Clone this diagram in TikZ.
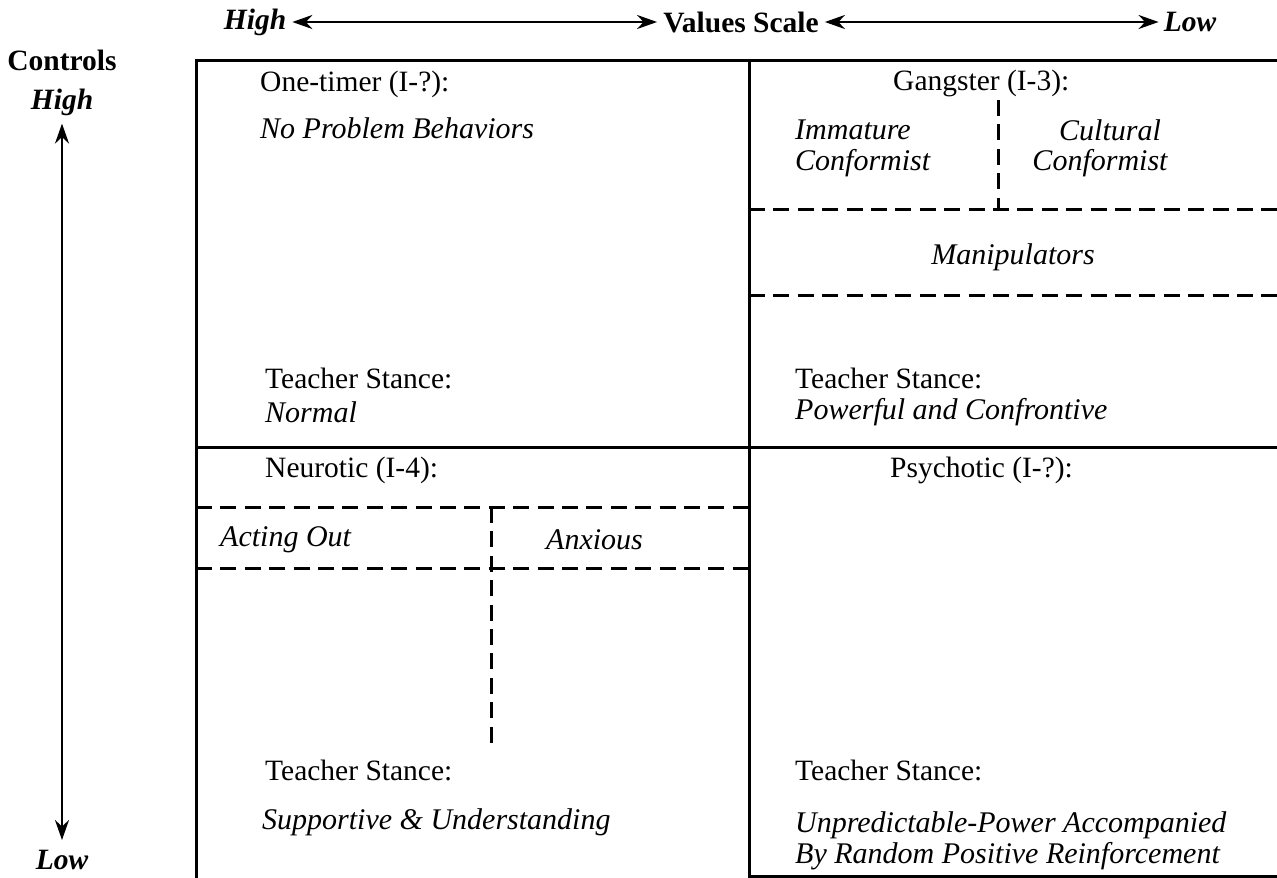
\documentclass[tikz,border=0pt]{standalone}
\usepackage{fontspec}
\setmainfont{Liberation Serif}
\usetikzlibrary{arrows.meta}
\tikzset{
  txt/.style={inner sep=0pt, anchor=west, font=\fontsize{29.5}{32}\selectfont},
  itx/.style={inner sep=0pt, anchor=west, font=\fontsize{30}{32}\selectfont\itshape},
  itc/.style={inner sep=0pt, anchor=center, font=\fontsize{30}{32}\selectfont\itshape},
  hdr/.style={inner sep=0pt, font=\fontsize{29.5}{32}\selectfont\bfseries},
  hdi/.style={inner sep=0pt, font=\fontsize{29.5}{32}\selectfont\bfseries\itshape},
  frame/.style={line width=3pt},
  dashline/.style={line width=3pt, dash pattern=on 16pt off 8.4pt},
  axis/.style={line width=2.5pt, {Stealth[length=20pt,width=14pt]}-{Stealth[length=20pt,width=14pt]}}
}
\begin{document}
\begin{tikzpicture}[x=1pt,y=-1pt]
\useasboundingbox (0,0) rectangle (1277,878);
% axis labels
\node[hdi] (th) at (255,22) {High};
\node[hdr] (vs) at (741,22) {Values Scale};
\node[hdi] (tl) at (1190,22) {Low};
\draw[axis] ([xshift=6pt]th.east) -- ([xshift=-6pt]vs.west);
\draw[axis] ([xshift=6pt]vs.east) -- ([xshift=-5pt]tl.west);
\node[hdr] (ctl) at (62,60) {Controls};
\node[hdi] (ch) at (62,102) {High};
\node[hdi] (cl) at (62,860) {Low};
\draw[axis] ([yshift=-8pt]ch.south) -- ([yshift=10pt]cl.north);
% frame
\draw[frame] (196,60) -- (1277,60);
\draw[frame] (196,447) -- (1277,447);
\draw[frame] (196,58.5) -- (196,878);
\draw[frame] (749,58.5) -- (749,878);
\draw[frame] (749,876) -- (1277,876);
% dashed subdivisions
\draw[dashline] (749,209) -- (1277,209);
\draw[dashline] (998,100) -- (998,209);
\draw[dashline] (749,295) -- (1277,295);
\draw[dashline] (196,507) -- (749,507);
\draw[dashline] (196,568) -- (749,568);
\draw[dashline] (491,507) -- (491,750);
% quadrant I
\node[txt] (q1h) at (260,84) {One-timer (I-?):};
\node[itx] (q1b) at (260,128) {No Problem Behaviors};
\node[txt] (q1s) at (265,378) {Teacher Stance:};
\node[itx] (q1t) at (265,412) {Normal};
% quadrant II
\node[txt] (q2h) at (893,83) {Gangster (I-3):};
\node[itx] (q2a) at (795,130) {Immature};
\node[itx] (q2b) at (795,163) {Conformist};
\node[itc] (q2c) at (1110,130) {Cultural};
\node[itc] (q2d) at (1100,163) {Conformist};
\node[itc] (q2m) at (1013,257) {Manipulators};
\node[txt] (q2s) at (795,378) {Teacher Stance:};
\node[itx] (q2t) at (795,412) {Powerful and Confrontive};
% quadrant III
\node[txt] (q3h) at (265,470) {Neurotic (I-4):};
\node[itx] (q3a) at (220,540) {Acting Out};
\node[itx] (q3b) at (546,540) {Anxious};
\node[txt] (q3s) at (265,770) {Teacher Stance:};
\node[itx] (q3t) at (262,822) {Supportive \& Understanding};
% quadrant IV
\node[txt] (q4h) at (890,470) {Psychotic (I-?):};
\node[txt] (q4s) at (795,770) {Teacher Stance:};
\node[itx] (q4t) at (795,825) {Unpredictable-Power Accompanied};
\node[itx] (q4u) at (795,856) {By Random Positive Reinforcement};
\end{tikzpicture}
\end{document}
